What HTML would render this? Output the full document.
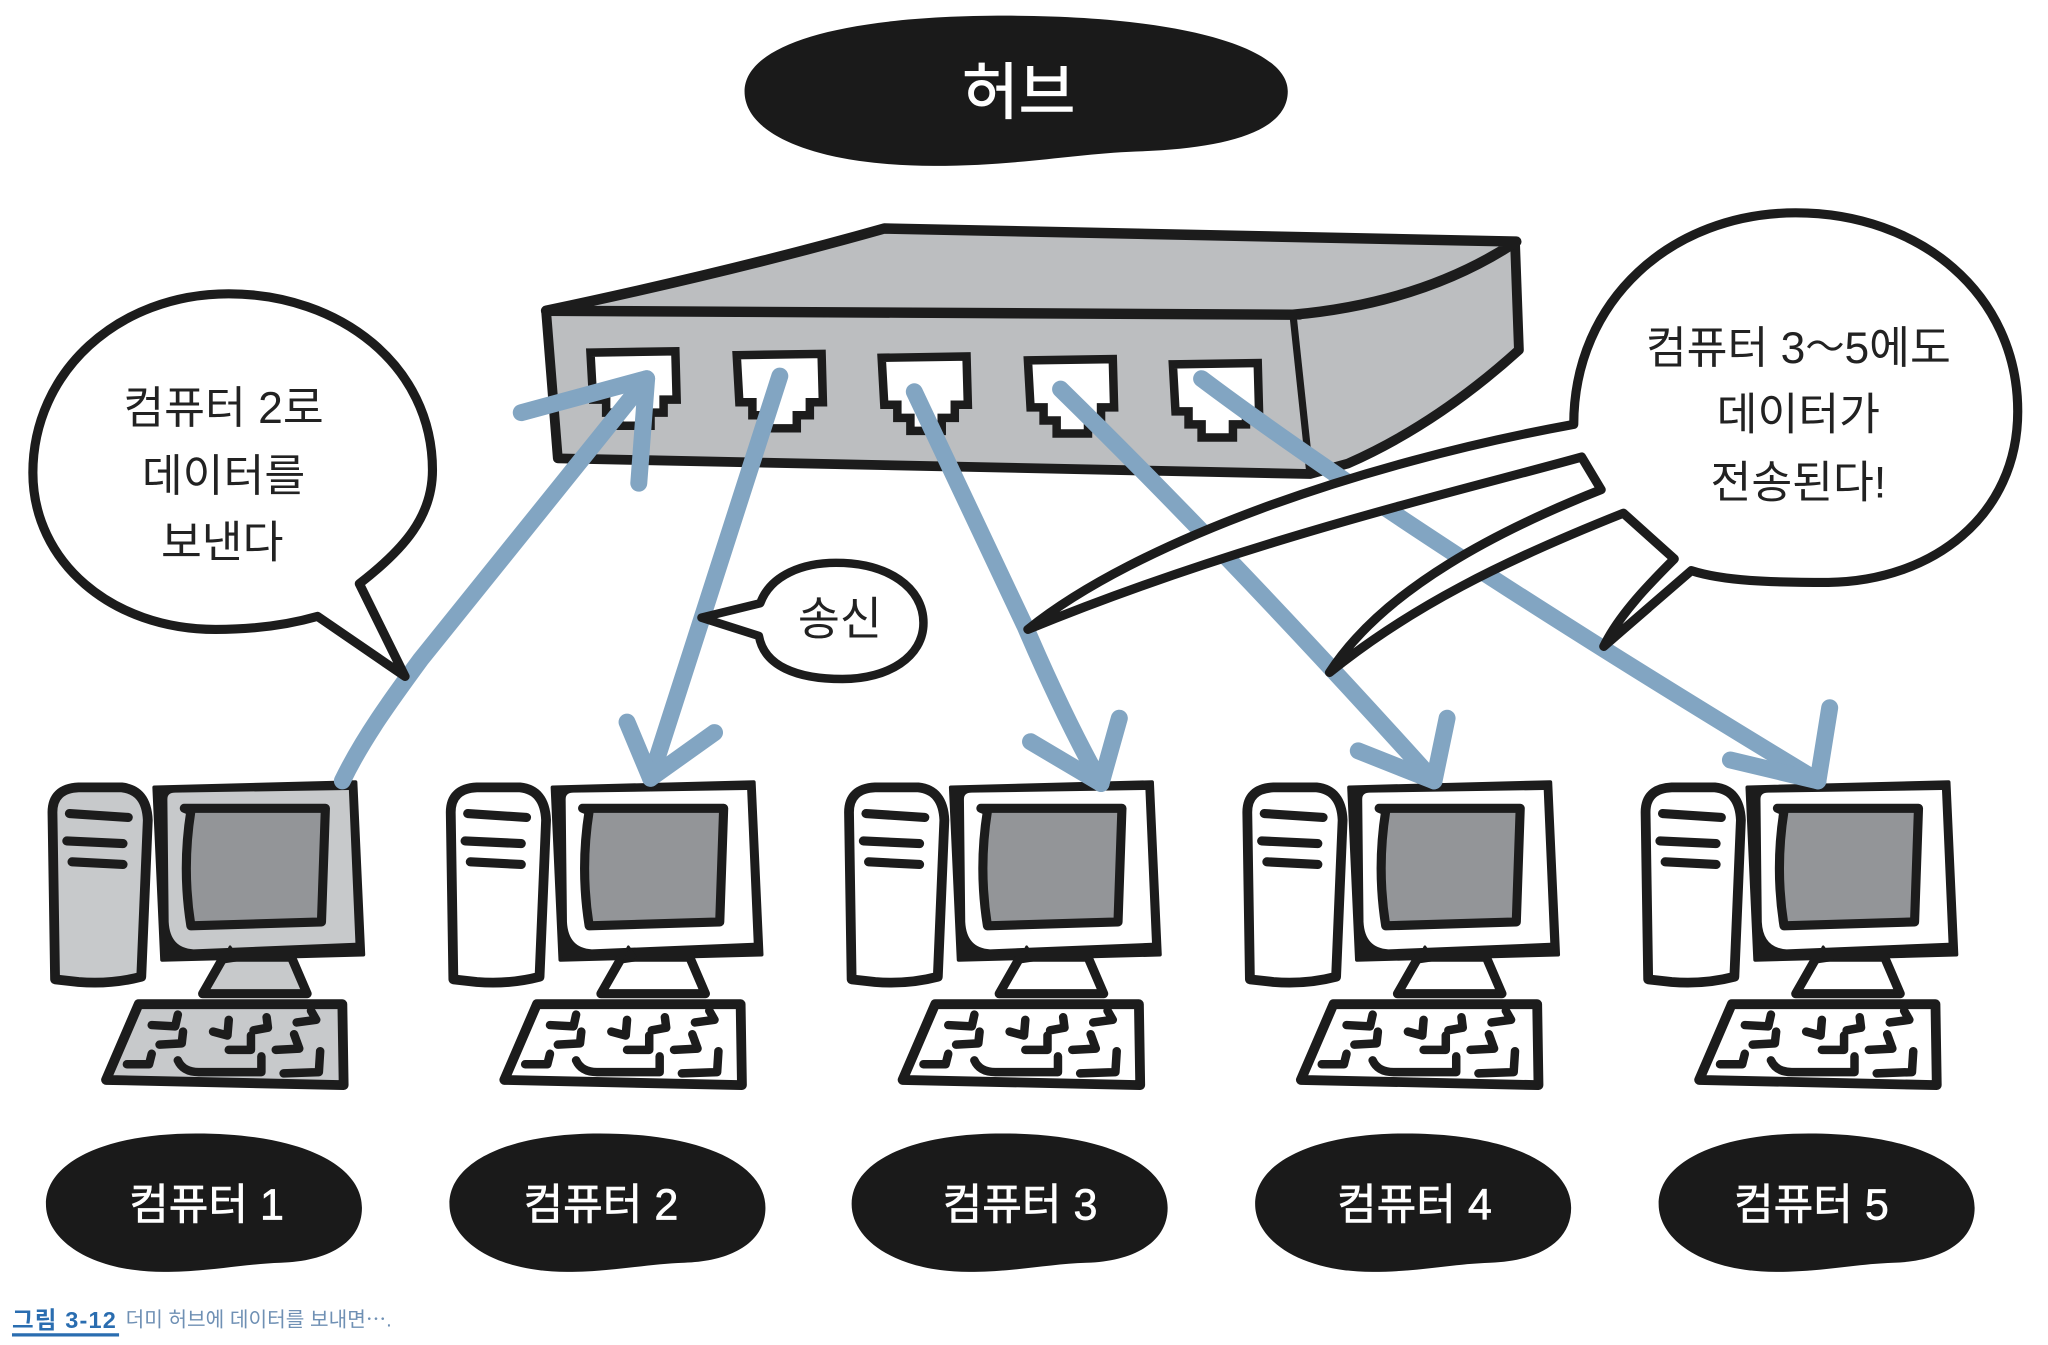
<!DOCTYPE html>
<html><head><meta charset="utf-8"><style>
html,body{margin:0;padding:0;background:#fff;width:2048px;height:1345px;overflow:hidden}
svg{display:block}
text{font-family:"Liberation Sans","Noto Sans CJK KR",sans-serif;text-anchor:middle}
</style></head><body>
<svg width="2048" height="1345" viewBox="0 0 1568 1030" xmlns="http://www.w3.org/2000/svg">
<defs>
<g id="pc" stroke-linejoin="round" stroke-linecap="round">
  <path d="M40,622 Q40,604 60,603 L93,603 Q112,605 113,628 L108,748 Q85,754 60,752 L42,750 Z" stroke="#1c1c1c" stroke-width="7.5"/>
  <path d="M53,623 L98,626 M51,644 L94,646 M55,660 L94,662" fill="none" stroke="#1c1c1c" stroke-width="7"/>
  <path d="M118,603 L272,599 L278,731 L124,735 Z" fill="#1c1c1c" stroke="#1c1c1c" stroke-width="3"/>
  <path d="M128,612 Q128,607 134,607 L267,605 L272,722 L148,727 Q130,726 129,706 Z" stroke="none"/>
  <path d="M141,619 L249,619 L246,706 L146,709 Q139,665 146,621 Z" fill="#939598" stroke="#1c1c1c" stroke-width="7"/>
  <path d="M171,733 L223,733 L235,761 L155,761 Z" stroke="#1c1c1c" stroke-width="7"/>
  <path d="M176,725 L170,737 L183,735 Z" fill="#1c1c1c" stroke="#1c1c1c" stroke-width="2"/>
  <path d="M106,769 L262,769 L263,831 L81,827 Z" stroke="#1c1c1c" stroke-width="7.5"/>
  <g fill="none" stroke="#1c1c1c" stroke-width="6.5">
    <path d="M116,785 L134,786 L136,777"/>
    <path d="M122,800 L139,799 L140,790"/>
    <path d="M97,815 L114,815 L116,807"/>
    <path d="M163,790 L174,793 L175,781"/>
    <path d="M194,789 L205,787 L204,779"/>
    <path d="M227,783 L242,781 L238,774"/>
    <path d="M175,804 L192,804 L192,793"/>
    <path d="M211,804 L229,803 L225,792"/>
    <path d="M136,812 Q140,821 152,821 L200,821 L200,809"/>
    <path d="M217,822 L244,821 L245,805"/>
  </g>
</g>
<path id="blob" d="M35,922 C35,890 80,868 150,868 C230,868 277,892 277,925 C277,952 250,966 215,967 C185,968 160,974 125,974 C70,974 35,950 35,922 Z" fill="#1a1a1a"/>
<path id="port" d="M0,0 L65,-1 L66,36 L56,36 L56,46 L46,46 L46,56 L22,56 L22,46 L12,46 L12,36 L2,36 Z" fill="#fff" stroke="#1c1c1c" stroke-width="6.5" stroke-linejoin="miter"/>
</defs>

<!-- title -->
<path d="M570,70 C570,35 640,12 770,12 C900,12 986,35 986,70 C986,102 935,114 870,116 C820,118 780,127 715,127 C630,127 570,105 570,70 Z" fill="#1a1a1a"/>
<text x="780" y="87" font-size="47" fill="#fff" stroke="#fff" stroke-width="0.8">허브</text>

<!-- hub -->
<g stroke="#1c1c1c" stroke-linejoin="round">
  <path d="M418,238 L995,241 L1160,185 L1163,268 Q1100,325 1032,355 L1003,363 L427,351 Z" fill="#bcbec0" stroke-width="7.5"/>
  <path d="M418,238 Q560,208 677,175 L1161,185 Q1090,232 990,241 Z" fill="#bcbec0" stroke-width="8"/>
  <path d="M990,241 L1003,363" fill="none" stroke-width="5.5"/>
</g>
<use href="#port" x="452" y="270"/>
<use href="#port" x="564" y="272"/>
<use href="#port" x="675" y="274"/>
<use href="#port" x="787" y="276"/>
<use href="#port" x="898" y="279"/>

<!-- computers -->
<use href="#pc" fill="#c7c9cb"/>
<use href="#pc" x="305" fill="#fff"/>
<use href="#pc" x="610" fill="#fff"/>
<use href="#pc" x="915" fill="#fff"/>
<use href="#pc" x="1220" fill="#fff"/>

<!-- arrows -->
<g fill="none" stroke="#82a5c2" stroke-width="13" stroke-linecap="round" stroke-linejoin="round">
  <path d="M262,598 C278,565 300,535 322,505 L495,290"/>
  <path d="M399,316 L495,290 L489,370"/>
  <path d="M597,288 L498,596"/>
  <path d="M480,553 L498,596 L547,561"/>
  <path d="M700,300 L785,480 Q815,550 843,600"/>
  <path d="M789,568 L843,600 L857,550"/>
  <path d="M812,298 C860,345 960,445 1098,598"/>
  <path d="M1040,575 L1098,598 L1108,550"/>
  <path d="M920,290 C1020,365 1180,470 1392,598"/>
  <path d="M1325,582 L1392,598 L1401,542"/>
</g>

<!-- left bubble -->
<path d="M275,447 C310,420 331,395 331,360 C331,280 260,225 175,225 C90,225 25,285 25,362 C25,430 85,482 165,482 C195,482 222,478 243,472 L310,518 Z" fill="#fff" stroke="#1c1c1c" stroke-width="7" stroke-linejoin="round"/>
<g font-size="34" fill="#222">
<text x="171" y="324">컴퓨터 2로</text>
<text x="171" y="376">데이터를</text>
<text x="170" y="427">보낸다</text>
</g>

<!-- small bubble -->
<path d="M582,462 C590,440 615,431 640,431 C680,431 707,450 707,477 C707,503 680,520 645,520 C610,520 585,510 581,487 L537,473 Z" fill="#fff" stroke="#1c1c1c" stroke-width="6.5" stroke-linejoin="round"/>
<text x="643" y="486" font-size="35" fill="#222">송신</text>

<!-- right bubble -->
<path d="M1205,325 C1205,230 1280,163 1375,163 C1470,163 1545,225 1545,315 C1545,395 1480,445 1400,446 C1355,446 1320,445 1295,437 L1228,495 C1240,470 1265,445 1282,428 L1243,393 C1150,430 1080,465 1018,515 C1060,450 1150,405 1226,375 L1211,350 C1110,378 950,415 787,482 C870,415 1040,355 1205,325 Z" fill="#fff" stroke="#1c1c1c" stroke-width="7" stroke-linejoin="round"/>
<g font-size="34" fill="#222">
<text x="1377" y="278">컴퓨터 3<tspan font-size="30" dy="-2">～</tspan><tspan dy="2">5에도</tspan></text>
<text x="1377" y="329">데이터가</text>
<text x="1377" y="381">전송된다!</text>
</g>

<!-- computer labels -->
<use href="#blob"/>
<use href="#blob" x="309"/>
<use href="#blob" x="617"/>
<use href="#blob" x="926"/>
<use href="#blob" x="1235"/>
<g font-size="33" fill="#fff" stroke="#fff" stroke-width="0.5">
<text x="158" y="934">컴퓨터 1</text>
<text x="460" y="934">컴퓨터 2</text>
<text x="781" y="934">컴퓨터 3</text>
<text x="1083" y="934">컴퓨터 4</text>
<text x="1387" y="934">컴퓨터 5</text>
</g>

<!-- caption -->
<text x="9" y="1017" font-size="18" font-weight="700" letter-spacing="0.9" fill="#2a6db0" style="text-anchor:start">그림 3-12</text>
<rect x="9" y="1021" width="82" height="2.5" fill="#2a6db0"/>
<text x="96" y="1016" font-size="15.5" fill="#6f90b4" style="text-anchor:start">더미 허브에 데이터를 보내면⋯.</text>
</svg>
</body></html>
